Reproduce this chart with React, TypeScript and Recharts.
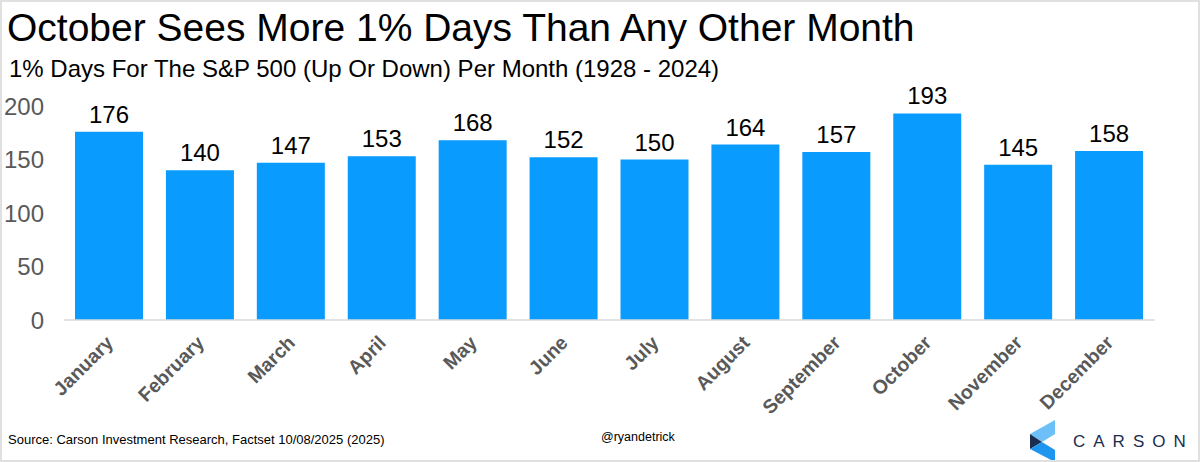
import { BarChart, Bar, XAxis, YAxis, LabelList } from 'recharts';

const months = [
  'January', 'February', 'March', 'April', 'May', 'June',
  'July', 'August', 'September', 'October', 'November', 'December',
];
const oneStarDays = [176, 140, 147, 153, 168, 152, 150, 164, 157, 193, 145, 158];
const yTicks = [0, 50, 100, 150, 200];

const data = months.map((month, i) => ({ month, days: oneStarDays[i] }));

const FONT = '"Liberation Sans", Arial, Helvetica, sans-serif';

const MonthTick = (props: any) => {
  const { x, y, payload } = props;
  return (
    <g transform={`translate(${x + 5},${y + 24})`}>
      <text
        x={0}
        y={0}
        textAnchor="end"
        transform="rotate(-45)"
        fontFamily={FONT}
        fontSize={19.5}
        fontWeight="bold"
        fill="#595959"
      >
        {payload.value}
      </text>
    </g>
  );
};

function CarsonLogo() {
  return (
    <svg width={60} height={46} viewBox="1024 416 60 46" style={{ position: 'absolute', left: 1024, top: 416 }}>
      <polygon points="1028,432 1053,418 1053,432 1040,440" fill="#6cc0f7" />
      <polygon points="1028,432 1040,440 1028,447" fill="#1a2d4f" />
      <polygon points="1028,447 1040,440 1053,448 1053,460" fill="#1e96f0" />
    </svg>
  );
}

export default function App() {
  return (
    <div
      style={{
        position: 'absolute',
        left: 0,
        top: 0,
        width: 1200,
        height: 462,
        boxSizing: 'border-box',
        border: '2px solid #e0e0e0',
        background: '#fff',
        fontFamily: FONT,
        overflow: 'hidden',
      }}
    >
      <div style={{ position: 'absolute', left: 5, top: 4, fontSize: 39, color: '#000', whiteSpace: 'nowrap' }}>
        October Sees More 1% Days Than Any Other Month
      </div>
      <div style={{ position: 'absolute', left: 7, top: 53, fontSize: 24, color: '#000', whiteSpace: 'nowrap' }}>
        1% Days For The S&amp;P 500 (Up Or Down) Per Month (1928 - 2024)
      </div>

      <div style={{ position: 'absolute', left: -2, top: -2 }}>
        <BarChart
          width={1200}
          height={462}
          data={data}
          margin={{ top: 106, right: 45, bottom: 42, left: 0 }}
        >
          <YAxis
            width={64}
            domain={[0, 200]}
            ticks={yTicks}
            axisLine={false}
            tickLine={false}
            tickSize={0}
            tickMargin={20}
            tick={{ fill: '#595959', fontSize: 24, fontFamily: FONT }}
          />
          <XAxis
            dataKey="month"
            height={100}
            interval={0}
            axisLine={{ stroke: '#d9d9d9', strokeWidth: 1.5 }}
            tickLine={false}
            tickSize={0}
            tickMargin={0}
            tick={<MonthTick />}
          />
          <Bar dataKey="days" fill="#0a9bff" barSize={68} isAnimationActive={false}>
            <LabelList
              dataKey="days"
              position="top"
              offset={9}
              fill="#000"
              fontSize={24}
              fontFamily={FONT}
            />
          </Bar>
        </BarChart>
      </div>

      <div style={{ position: 'absolute', left: 6, top: 430, fontSize: 13, color: '#000', whiteSpace: 'nowrap' }}>
        Source: Carson Investment Research, Factset 10/08/2025 (2025)
      </div>
      <div style={{ position: 'absolute', left: 599, top: 428, fontSize: 12.5, color: '#000', whiteSpace: 'nowrap' }}>
        @ryandetrick
      </div>
      <CarsonLogo />
      <div
        style={{
          position: 'absolute',
          left: 1071,
          top: 430,
          fontSize: 17,
          letterSpacing: 8,
          color: '#1a2d4f',
          whiteSpace: 'nowrap',
        }}
      >
        CARSON
      </div>
    </div>
  );
}
